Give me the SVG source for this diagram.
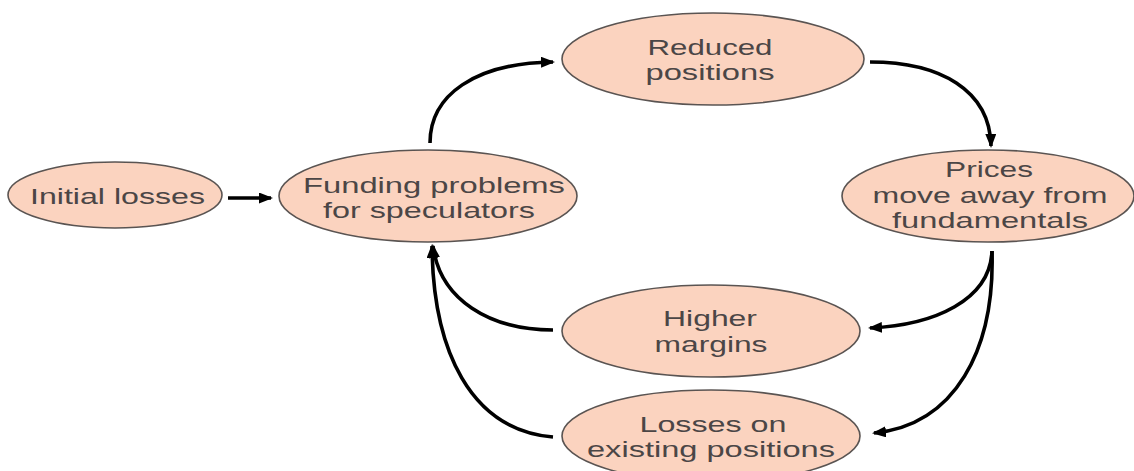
<svg xmlns="http://www.w3.org/2000/svg" width="1134" height="471" viewBox="0 0 1134 471">
<defs>
<style>
.node ellipse{fill:#fbd3bf;stroke:#5a5452;stroke-width:1.6}
.node text{font-family:"Liberation Sans",Arial,sans-serif;font-size:22px;fill:#4b4646;text-anchor:middle}
.conn path{fill:none;stroke:#000;stroke-width:3.6}
</style>
<marker id="ah" viewBox="0 0 14 11" refX="12" refY="5.5" markerWidth="14" markerHeight="11" markerUnits="userSpaceOnUse" orient="auto">
<path d="M0,0 L14,5.5 L0,11 Z" fill="#000"/>
</marker>
</defs>
<rect width="1134" height="471" fill="#fff"/>
<g id="connectors" class="conn">
<path d="M228,198 L271,198" marker-end="url(#ah)"/>
<path d="M430,143 C430,95 475,63 553,62" marker-end="url(#ah)"/>
<path d="M870,62 C940,62 990,90 991,146" marker-end="url(#ah)"/>
<path d="M992,251 C990,300 935,325 870,328" marker-end="url(#ah)"/>
<path d="M992,251 C995,350 955,425 874,433" marker-end="url(#ah)"/>
<path d="M553,330 C490,330 440,300 433,246" marker-end="url(#ah)"/>
<path d="M553,437 C470,430 433,350 432,246" marker-end="url(#ah)"/>
</g>
<g id="initial-losses" class="node">
<ellipse cx="115" cy="195" rx="107" ry="33"/>
<text x="117.5" y="204" textLength="175" lengthAdjust="spacingAndGlyphs">Initial losses</text>
</g>
<g id="funding-problems" class="node">
<ellipse cx="428" cy="196" rx="149" ry="46"/>
<text x="434" y="193" textLength="262" lengthAdjust="spacingAndGlyphs">Funding problems</text>
<text x="429" y="218" textLength="212" lengthAdjust="spacingAndGlyphs">for speculators</text>
</g>
<g id="reduced-positions" class="node">
<ellipse cx="713" cy="59" rx="151" ry="46"/>
<text x="710" y="55" textLength="125" lengthAdjust="spacingAndGlyphs">Reduced</text>
<text x="710" y="80" textLength="129" lengthAdjust="spacingAndGlyphs">positions</text>
</g>
<g id="prices" class="node">
<ellipse cx="988" cy="196" rx="146" ry="46"/>
<text x="989" y="177" textLength="88" lengthAdjust="spacingAndGlyphs">Prices</text>
<text x="990" y="203" textLength="235" lengthAdjust="spacingAndGlyphs">move away from</text>
<text x="990" y="228" textLength="196" lengthAdjust="spacingAndGlyphs">fundamentals</text>
</g>
<g id="higher-margins" class="node">
<ellipse cx="711" cy="331" rx="149" ry="46"/>
<text x="710" y="326" textLength="94" lengthAdjust="spacingAndGlyphs">Higher</text>
<text x="711" y="352" textLength="113" lengthAdjust="spacingAndGlyphs">margins</text>
</g>
<g id="losses-existing" class="node">
<ellipse cx="711" cy="436" rx="149" ry="46"/>
<text x="713" y="432" textLength="147" lengthAdjust="spacingAndGlyphs">Losses on</text>
<text x="711" y="457" textLength="248" lengthAdjust="spacingAndGlyphs">existing positions</text>
</g>
</svg>
